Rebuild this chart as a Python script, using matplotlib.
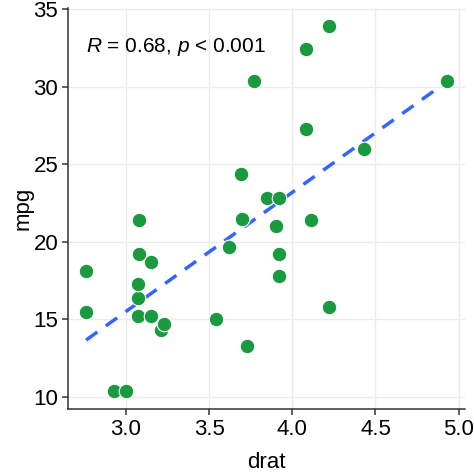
import matplotlib
matplotlib.use("Agg")
import matplotlib.pyplot as plt
import numpy as np

# mtcars: drat vs mpg
drat = [3.90, 3.90, 3.85, 3.08, 3.15, 2.76, 3.21, 3.69, 3.92, 3.92, 3.92,
        3.07, 3.07, 3.07, 2.93, 3.00, 3.23, 4.08, 4.93, 4.22, 3.70, 2.76,
        3.15, 3.73, 3.08, 4.08, 4.43, 3.77, 4.22, 3.62, 3.54, 4.11]
mpg = [21.0, 21.0, 22.8, 21.4, 18.7, 18.1, 14.3, 24.4, 22.8, 19.2, 17.8,
       16.4, 17.3, 15.2, 10.4, 10.4, 14.7, 32.4, 30.4, 33.9, 21.5, 15.5,
       15.2, 13.3, 19.2, 27.3, 26.0, 30.4, 15.8, 19.7, 15.0, 21.4]
label_text = r"$\it{R}$ = 0.68, $\it{p}$ < 0.001"

plt.rcParams['font.family'] = ['Liberation Sans', 'DejaVu Sans']
plt.rcParams['mathtext.fontset'] = 'custom'
plt.rcParams['mathtext.it'] = 'Liberation Sans:italic'
plt.rcParams['mathtext.rm'] = 'Liberation Sans'

x = np.array(drat)
y = np.array(mpg)

fig = plt.figure(figsize=(4.74, 4.74), dpi=100)
ax = fig.add_axes([68 / 474, 65 / 474, 397 / 474, 401 / 474])

ax.grid(True, color='#ebebeb', linewidth=1)
ax.set_axisbelow(True)

slope, intercept = np.polyfit(x, y, 1)
xs = np.array([x.min(), x.max()])
ax.plot(xs, slope * xs + intercept, color='#3366FF', lw=2.5,
        dashes=(4, 3), zorder=2)

ax.scatter(x, y, s=110, color='#1a9a3e', edgecolors='white', linewidths=0.8,
           zorder=3)

ax.set_xlim(2.6515, 5.0385)
ax.set_ylim(9.225, 35.075)
ax.set_xticks([3.0, 3.5, 4.0, 4.5, 5.0])
ax.set_yticks([10, 15, 20, 25, 30, 35])
ax.xaxis.set_major_formatter(matplotlib.ticker.FormatStrFormatter('%.1f'))

for s in ['top', 'right']:
    ax.spines[s].set_visible(False)
for s in ['left', 'bottom']:
    ax.spines[s].set_color('#333333')
    ax.spines[s].set_linewidth(1.1)
ax.tick_params(colors='#333333', length=4, width=1.1, labelsize=16,
               labelcolor='black', pad=3)

ax.set_xlabel('drat', fontsize=16, labelpad=9)
ax.set_ylabel('mpg', fontsize=16, labelpad=0)

ax.text(2.76, 32.55, label_text, fontsize=15, va='center', ha='left')

fig.savefig('out.png', dpi=100)
